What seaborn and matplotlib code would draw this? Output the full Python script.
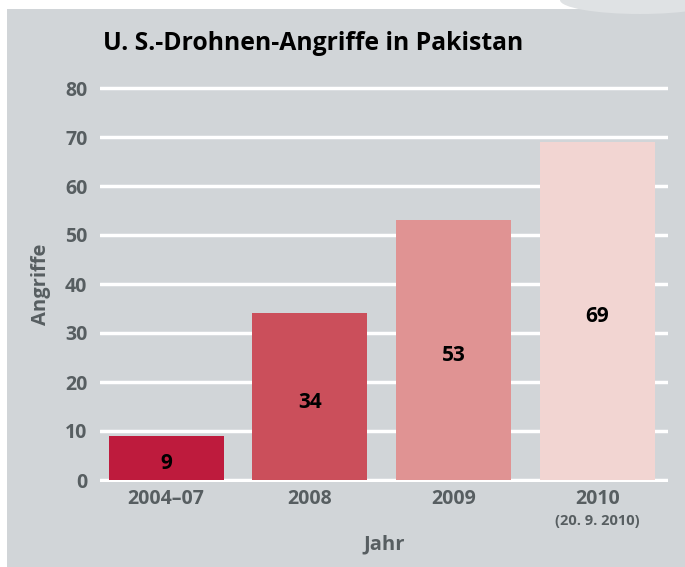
import pandas as pd
import matplotlib.pyplot as plt
import seaborn as sns
from matplotlib.patches import Rectangle, Ellipse

# Daten
jahre = ["2004–07", "2008", "2009", "2010"]
angriffe = [9, 34, 53, 69]
farben = ["#be1b3d", "#cb4f5b", "#e09393", "#f2d5d2"]
y_ticks = [0, 10, 20, 30, 40, 50, 60, 70, 80]

df = pd.DataFrame({"jahr": jahre, "angriffe": angriffe})

sns.set_style("white")
plt.rcParams["font.family"] = ["Open Sans", "DejaVu Sans"]

grau = "#d1d5d8"
textgrau = "#575e61"

fig = plt.figure(figsize=(6.85, 5.67), dpi=100)
fig.patch.set_facecolor("white")

# grauer Hintergrundkasten + Deko oben rechts
fig.add_artist(Rectangle((7 / 685, 0), 1, (567 - 9) / 567,
                         transform=fig.transFigure, facecolor=grau,
                         edgecolor="none", zorder=-10))
fig.add_artist(Ellipse((640 / 685, 1.0), 160 / 685, 28 / 567,
                       transform=fig.transFigure, facecolor="#dfe2e4",
                       edgecolor="none", zorder=-9))

ax = fig.add_axes([100 / 685, (567 - 482.45) / 567,
                   568 / 685, (482.45 - 85.55) / 567])
ax.set_facecolor(grau)
ax.set_zorder(1)

sns.barplot(data=df, x="jahr", y="angriffe", hue="jahr", palette=farben,
            width=0.8, saturation=1, legend=False, ax=ax, zorder=3,
            edgecolor="none", linewidth=0)

# Werte in den Balken
for i, v in enumerate(angriffe):
    ax.annotate(str(v), (i, v / 2), xytext=(0, -4), textcoords="offset points",
                ha="center", va="center", fontsize=15, fontweight="bold",
                color="black", zorder=4)

ax.set_ylim(-0.5, 80.5)
ax.set_xlim(-0.46, 3.49)
ax.set_yticks(y_ticks)
ax.yaxis.grid(True, color="white", linewidth=2.5, zorder=1)
ax.set_axisbelow(True)
for s in ax.spines.values():
    s.set_visible(False)

ax.tick_params(axis="y", length=0, pad=9, labelsize=14, labelcolor=textgrau)
ax.tick_params(axis="x", length=0, pad=5, labelsize=14, labelcolor=textgrau)
for lbl in ax.get_yticklabels() + ax.get_xticklabels():
    lbl.set_fontweight("bold")

ax.set_xlabel("Jahr", fontsize=14.5, fontweight="bold", color=textgrau, labelpad=18)
ax.set_ylabel("Angriffe", fontsize=14.5, fontweight="bold", color=textgrau, labelpad=10)

ax.text(3, -8.3, "(20. 9. 2010)", ha="center", va="center", fontsize=10.5,
        fontweight="bold", color=textgrau)

fig.text(103 / 685, (567 - 44) / 567, "U. S.-Drohnen-Angriffe in Pakistan",
         ha="left", va="center", fontsize=17.8, fontweight="bold", color="black")

plt.savefig("out.png", dpi=100)
plt.close()
